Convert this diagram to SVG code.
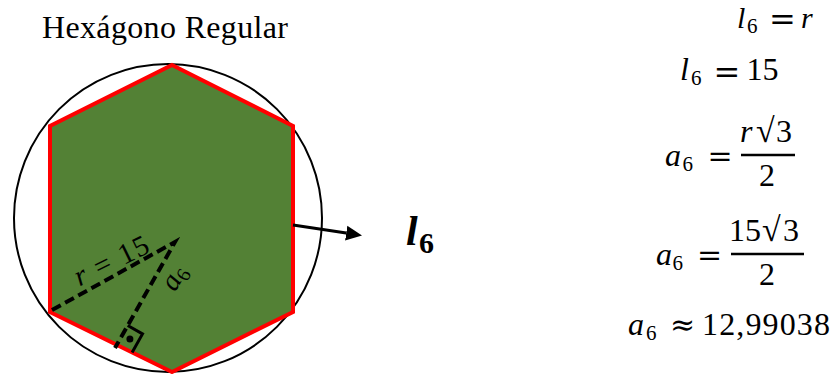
<svg xmlns="http://www.w3.org/2000/svg" width="837" height="374" viewBox="0 0 837 374">
  <style>
    .m { font-family: "Liberation Serif", "Times New Roman", serif; fill: #000; }
    .n { font-size: 32px; }
    .n1 { font-size: 30px; }
    .s { font-size: 21px; }
    .it { font-style: italic; }
    .rad { font-size: 34px; }
    .rel { font-family: "DejaVu Serif", "DejaVu Sans", serif; fill: #000; }
    .r30 { font-size: 30px; }
    .r32 { font-size: 32px; }
    .ttl { font-size: 32px; }
    .lbl { font-size: 29px; }
    .lsub { font-size: 20px; }
    .bl { font-size: 42px; font-weight: bold; font-style: italic; }
    .bls { font-size: 30px; font-weight: bold; }
    .dash { fill: none; stroke: #000; stroke-width: 4; stroke-dasharray: 10 5; stroke-linejoin: miter; }
    .bar { stroke: #000; stroke-width: 2.5; }
  </style>
  <defs>
    <marker id="arrow" viewBox="0 -8 16 16" markerWidth="16" markerHeight="16" refX="0" refY="0" orient="auto" markerUnits="userSpaceOnUse">
      <path d="M0,-7.5 L16,0 L0,7.5 Z" fill="#000"/>
    </marker>
  </defs>
  <rect width="837" height="374" fill="#fff"/>

  <g id="title">
    <text class="m ttl" x="42" y="38" textLength="246">Hexágono Regular</text>
  </g>

  <g id="circle">
    <circle cx="168" cy="218" r="154" fill="none" stroke="#000" stroke-width="2"/>
  </g>

  <g id="hexagon">
    <polygon points="172,65 293,126 293,312 172,372 50,312 50,126" fill="#538135" stroke="#ff0000" stroke-width="4" stroke-linejoin="miter"/>
  </g>

  <g id="construction">
    <polyline class="dash" points="52,310 175,242 115,348"/>
    <polyline points="127.7,325.5 142.5,333.9 132.1,352.4" fill="none" stroke="#000" stroke-width="3"/>
    <circle cx="129.9" cy="339" r="3.5" fill="#000"/>
  </g>

  <g id="label-r">
    <text class="m lbl" text-anchor="middle" transform="translate(111.5,261) rotate(-26)" y="9" textLength="80"><tspan class="it">r</tspan> = 15</text>
  </g>

  <g id="label-a6">
    <text class="m lbl" text-anchor="middle" transform="translate(176,279) rotate(-60.5)" y="6"><tspan class="it">a</tspan><tspan class="lsub" dy="5">6</tspan></text>
  </g>

  <g id="connectors">
    <line x1="293" y1="225" x2="346.2" y2="233.1" stroke="#000" stroke-width="3" marker-end="url(#arrow)"/>
  </g>

  <g id="label-l6">
    <text class="m bl" x="406" y="245">l</text>
    <text class="m bls" x="419" y="253">6</text>
  </g>

  <g id="eq1">
    <text class="m n1 it" x="737" y="28">l</text>
    <text class="m s" x="747" y="33">6</text>
    <text class="rel r32" x="769" y="29.5">=</text>
    <text class="m n1 it" x="801" y="28">r</text>
  </g>

  <g id="eq2">
    <text class="m n it" x="680" y="80">l</text>
    <text class="m s" x="691" y="85">6</text>
    <text class="rel r32" x="713.6" y="83.2">=</text>
    <text class="m n" x="746.5" y="80">15</text>
  </g>

  <g id="eq3">
    <text class="m n it" x="665" y="166">a</text>
    <text class="m s" x="682.5" y="171">6</text>
    <text class="rel r30" x="707.4" y="165.5">=</text>
    <text class="m n it" x="740" y="142">r</text>
    <text class="m rad" x="756" y="142">√</text>
    <text class="m n" x="776" y="142">3</text>
    <line class="bar" x1="741" y1="155" x2="795" y2="155"/>
    <text class="m n" x="759" y="186">2</text>
  </g>

  <g id="eq4">
    <text class="m n it" x="656" y="265">a</text>
    <text class="m s" x="672.5" y="270">6</text>
    <text class="rel r30" x="696.9" y="264.5">=</text>
    <text class="m n" x="729" y="241">15</text>
    <text class="m rad" x="762" y="241">√</text>
    <text class="m n" x="783" y="241">3</text>
    <line class="bar" x1="731" y1="254" x2="804" y2="254"/>
    <text class="m n" x="759" y="285">2</text>
  </g>

  <g id="eq5">
    <text class="m n it" x="628" y="335">a</text>
    <text class="m s" x="646" y="340">6</text>
    <text class="rel r30" x="670" y="334.5">≈</text>
    <text class="m n" x="702" y="335" textLength="128" lengthAdjust="spacing">12,99038</text>
  </g>
</svg>
